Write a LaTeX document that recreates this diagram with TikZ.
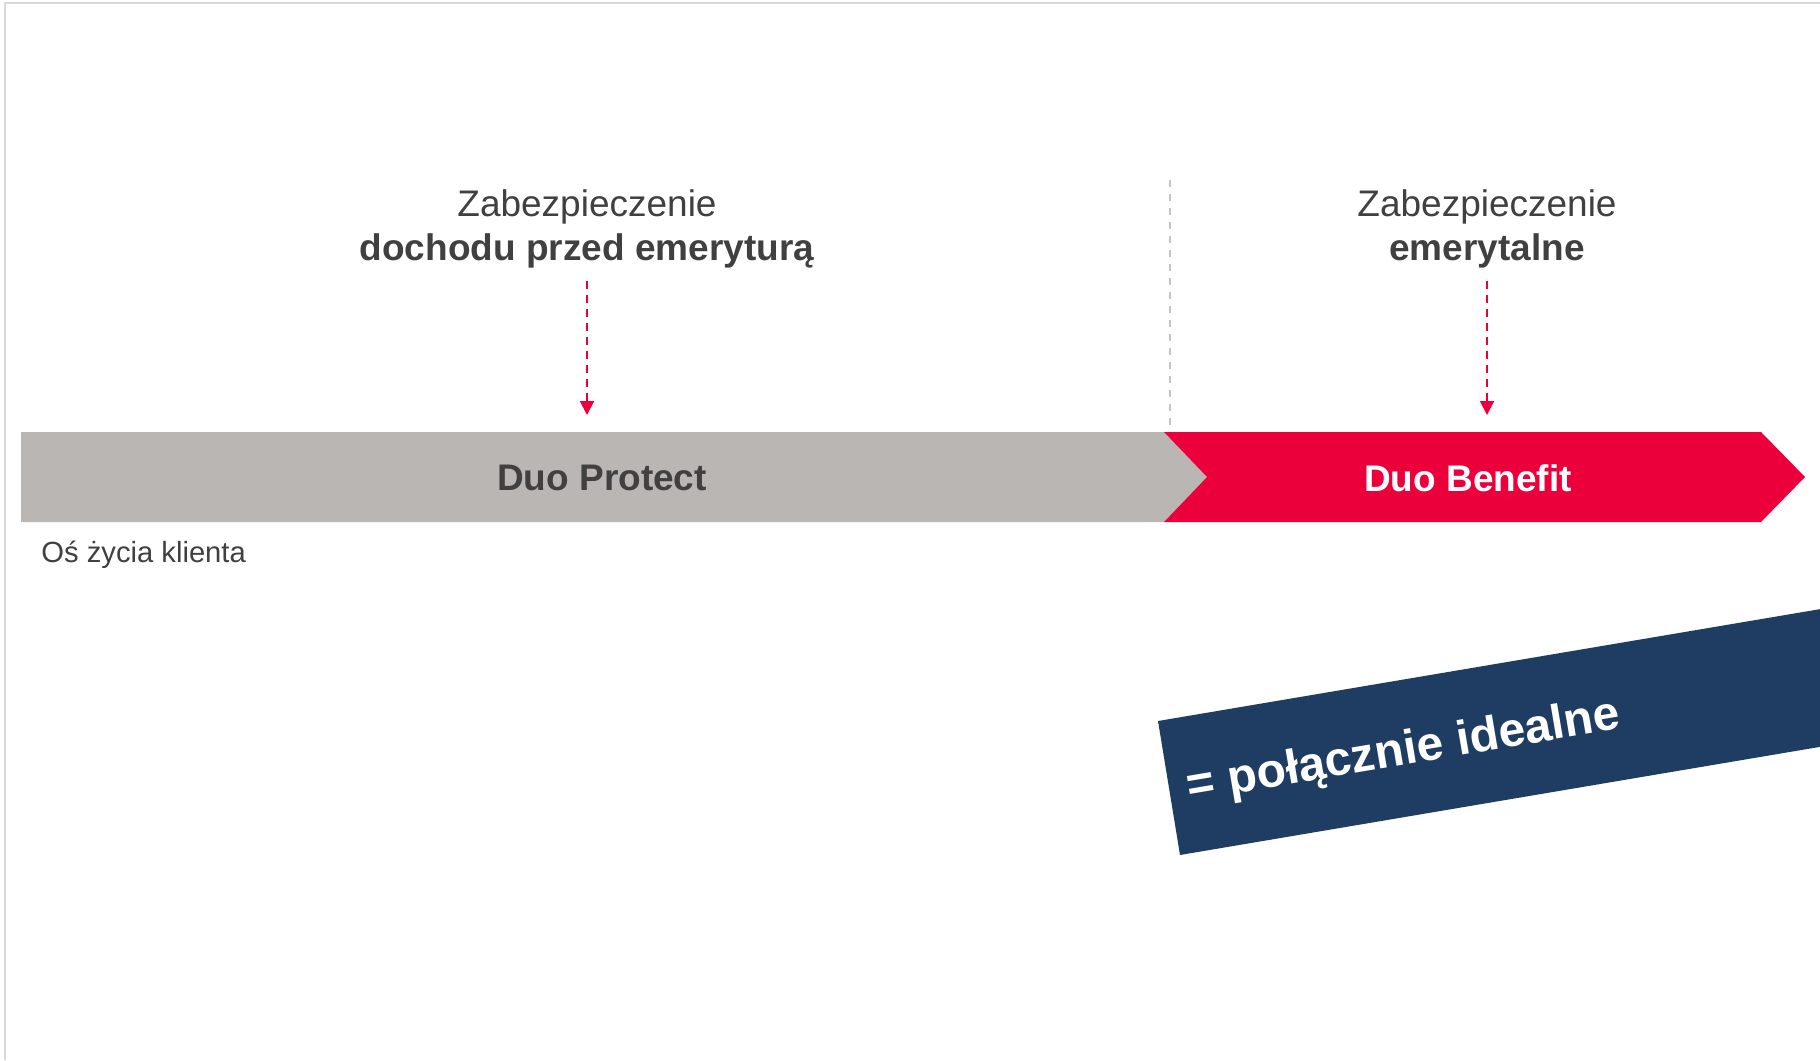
\documentclass[tikz,border=0pt]{standalone}
\usepackage{fontspec}
\setmainfont{Liberation Sans}
\usetikzlibrary{arrows.meta,calc}
\definecolor{duogray}{HTML}{BAB6B3}
\definecolor{duored}{HTML}{EB003C}
\definecolor{duonavy}{HTML}{1F3D63}
\definecolor{duotext}{HTML}{404040}
\definecolor{duoframe}{HTML}{D9D9D9}
\definecolor{duodash}{HTML}{C4C4C4}
\tikzset{lbl/.style={inner sep=0pt,text=duotext,align=center,font=\fontsize{18.5}{22}\selectfont},
  barlbl/.style={inner sep=0pt,font=\fontsize{18.5}{22}\selectfont\bfseries},
  hint/.style={draw=duored,line width=1pt,dash pattern=on 4pt off 3pt,-{Triangle[width=7pt,length=7pt]}},
  split/.style={draw=duodash,line width=1pt,dash pattern=on 3.5pt off 3.5pt}}

\begin{document}
\begin{tikzpicture}[x=0.5pt,y=-0.5pt]
\useasboundingbox (0,0) rectangle (1820,1060);
\clip (0,0) rectangle (1820,1060);
\draw[duoframe,line width=1pt] (5,1060)--(5,3)--(1820,3);

\coordinate (g1) at (21,432);
\coordinate (g2) at (1164,432);
\coordinate (notch) at (1207,477);
\coordinate (g3) at (1164,522);
\coordinate (g4) at (21,522);
\coordinate (r1) at (1761,432);
\coordinate (tip) at (1805,477);
\coordinate (r2) at (1761,522);

\fill[duogray] (g1)--(g2)--(notch)--(g3)--(g4)--cycle;
\fill[duored] (g2)--(r1)--(tip)--(r2)--(g3)--(notch)--cycle;

\node[barlbl,text=duotext] (protect) at (602,478) {Duo Protect};
\node[barlbl,text=white] (benefit) at (1468,478) {Duo Benefit};
\node[inner sep=0pt,anchor=west,text=duotext,font=\fontsize{14.6}{17}\selectfont] (axis) at (41,555) {Oś życia klienta};

\node[lbl] (zabL) at (587,229) {Zabezpieczenie\\\textbf{dochodu przed emeryturą}};
\node[lbl] (zabR) at (1487,229) {Zabezpieczenie\\\textbf{emerytalne}};
\coordinate (tipL) at (587,415);
\coordinate (tipR) at (1487,415);
\draw[hint,shorten <=6pt] (zabL.south) -- (tipL);
\draw[hint,shorten <=6pt] (zabR.south) -- (tipR);

\coordinate (s1) at (1170,180);
\coordinate (s2) at (1170,427);
\draw[split] (s1) -- (s2);

\coordinate (b1) at (1158,721);
\coordinate (b2) at (1880,599);
\coordinate (b3) at (1902,733);
\coordinate (b4) at (1180,855);
\fill[duonavy] (b1)--(b2)--(b3)--(b4)--cycle;
\node[inner sep=0pt,anchor=west,rotate=9.6,text=white,font=\fontsize{24}{28}\selectfont\bfseries] (ideal) at (1187,789) {= połącznie idealne};
\end{tikzpicture}
\end{document}
